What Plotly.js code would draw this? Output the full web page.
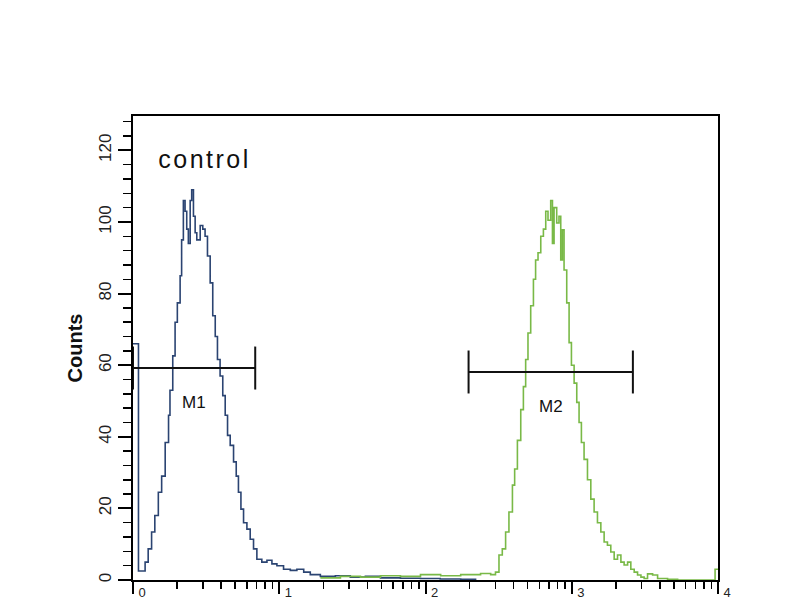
<!DOCTYPE html>
<html>
<head>
<meta charset="utf-8">
<script src="https://cdn.plot.ly/plotly-3.0.1.min.js"></script>
<style>
  html, body { margin: 0; padding: 0; background: #fff; overflow: hidden; }
  #chart { width: 800px; height: 600px; }
  .annotation[data-index="0"] text { letter-spacing: 2.5px; }
</style>
</head>
<body>
<div id="chart"></div>
<script>
// Control histogram (blue): fluorescence intensity vs counts
const blueX = [1.00, 1.04, 1.09, 1.21, 1.27, 1.34, 1.41, 1.49, 1.57, 1.66,
  1.75, 1.79, 1.87, 1.94, 2.01, 2.10, 2.15, 2.21, 2.27, 2.33,
  2.39, 2.46, 2.52, 2.59, 2.66, 2.73, 2.88, 3.00, 3.11, 3.23,
  3.37, 3.51, 3.65, 3.78, 3.94, 4.11, 4.27, 4.43, 4.62, 4.87,
  5.08, 5.26, 5.47, 5.70, 6.01, 6.33, 6.67, 7.03, 7.60, 8.24,
  8.91, 9.64, 10.7, 11.9, 13.2, 14.7, 16.3, 19.1, 24.2, 30.6,
  38.8, 49.2, 67.4, 92.4, 126, 174, 220];
const blueY = [66, 66, 2.5, 5, 8.7, 13.4, 18, 24.5, 29, 38.4,
  46, 53, 62.6, 72, 77.4, 85, 95, 106, 103, 98,
  94, 106, 109, 101.6, 97, 95, 99, 98, 96, 90.5,
  83, 73.8, 68, 61.6, 57, 51.5, 46, 40.4, 37.6, 33,
  29, 24.5, 19.8, 16, 14.2, 11.4, 8.7, 5.8, 5, 5.5,
  4.5, 4, 3, 2.7, 3, 2.2, 1.5, 1, 1.2, 0.8,
  1, 0.6, 0.5, 0.4, 0.3, 0.2, 0];

// Sample histogram (green)
const greenX = [19.1, 26.2, 35.9, 49.2, 67.4, 92.4, 127, 174, 238, 279,
  301, 318, 335, 353, 372, 393, 407, 425, 448, 467,
  484, 502, 524, 547, 566, 588, 614, 640, 664, 688,
  718, 738, 757, 789, 818, 841, 863, 886, 924, 959,
  995, 1038, 1082, 1122, 1164, 1214, 1281, 1350, 1422, 1499,
  1581, 1665, 1754, 1849, 1950, 2056, 2168, 2281, 2410, 2535,
  2673, 2818, 2972, 3126, 3298, 3572, 3864, 4519, 5297, 7656,
  9550, 10000];
const greenY = [0.6, 1, 0.8, 1.2, 1, 1.5, 1.2, 1.5, 1.8, 1.5,
  2.2, 7, 8.7, 13.4, 19, 26.5, 31, 39, 47.6, 54,
  61.6, 69, 76.6, 84, 89.4, 91.4, 96, 98, 103, 100.5,
  106, 94, 104, 99.7, 101.6, 89.4, 97.8, 86.6, 77.4, 66.3,
  60, 55, 49.6, 44, 38.4, 33.7, 28, 22.6, 19, 16,
  13.4, 10.6, 9.7, 7.8, 5.8, 7, 5, 4.2, 5, 3,
  2.2, 1.4, 0.8, 0.4, 1.7, 1.4, 0.4, 0.2, 0, 0,
  3, 3];

// Markers M1 / M2
const markerNames = ["M1", "M2"];
const markerLo = [1.0, 197];
const markerHi = [6.85, 2618];
const markerLevel = [59.2, 58.1];
const markerHalf = 6;

// Axis ticks
const xTickVals = [1, 10, 100, 1000, 10000];
const xTickText = ["0", "1", "2", "3", "4"];
const xMinorVals = [];
[1, 10, 100, 1000].forEach(d => { for (let k = 2; k <= 9; k++) xMinorVals.push(d * k); });

const titleText = "control";
const yTitle = "Counts";

const traces = [
  { x: blueX, y: blueY, type: "scatter", mode: "lines",
    line: { color: "#2b4472", width: 1.6, shape: "hv" }, hoverinfo: "skip" },
  { x: greenX, y: greenY, type: "scatter", mode: "lines",
    line: { color: "#79b947", width: 1.6, shape: "hv" }, hoverinfo: "skip" }
];

const annotations = [
  { text: titleText, xref: "paper", yref: "paper", x: 0.123, y: 0.907,
    xanchor: "center", yanchor: "middle", showarrow: false,
    font: { family: "Liberation Sans, Arial, sans-serif", size: 25, color: "#111" } }
];

markerNames.forEach((name, i) => {
  const lo = markerLo[i], hi = markerHi[i], lv = markerLevel[i];
  traces.push({
    x: [lo, lo, null, lo, hi, null, hi, hi],
    y: [lv - markerHalf, lv + markerHalf, null, lv, lv, null, lv - markerHalf, lv + markerHalf],
    type: "scatter", mode: "lines", line: { color: "#111", width: 2 }, hoverinfo: "skip"
  });
  annotations.push({
    text: name, xref: "x", yref: "y",
    x: (Math.log10(lo) + Math.log10(hi)) / 2, y: lv - 9.5,
    xanchor: "center", yanchor: "middle", showarrow: false,
    font: { family: "Liberation Sans, Arial, sans-serif", size: 17, color: "#111" }
  });
});

const layout = {
  width: 800, height: 600,
  margin: { l: 133, r: 82, t: 116, b: 20 },
  paper_bgcolor: "#fff", plot_bgcolor: "#fff",
  showlegend: false,
  xaxis: {
    type: "log", range: [0, 4],
    showline: true, linecolor: "#000", linewidth: 2, mirror: true,
    showgrid: false, zeroline: false,
    tickmode: "array", tickvals: xTickVals, ticktext: xTickText,
    ticks: "outside", ticklen: 12, tickwidth: 2, tickcolor: "#000",
    ticklabelshift: 9, ticklabelstandoff: -13,
    tickfont: { family: "Liberation Sans, Arial, sans-serif", size: 13, color: "#222" },
    minor: { tickmode: "array", tickvals: xMinorVals, ticks: "outside", ticklen: 7, tickwidth: 1.5, tickcolor: "#000" }
  },
  yaxis: {
    range: [0, 129.6],
    showline: true, linecolor: "#000", linewidth: 2, mirror: true,
    showgrid: false, zeroline: false,
    tickmode: "linear", tick0: 0, dtick: 20,
    ticks: "outside", ticklen: 13, tickwidth: 2, tickcolor: "#000",
    tickangle: -90,
    tickfont: { family: "Liberation Sans, Arial, sans-serif", size: 17, color: "#222" },
    minor: { tickmode: "linear", tick0: 0, dtick: 4, ticks: "outside", ticklen: 8, tickwidth: 1.5, tickcolor: "#000" },
    title: { text: yTitle, standoff: 8,
      font: { family: "Liberation Sans, Arial, sans-serif", size: 20, color: "#111", weight: "bold" } }
  },
  annotations: annotations
};

Plotly.newPlot("chart", traces, layout, { staticPlot: true, displayModeBar: false });
</script>
</body>
</html>
